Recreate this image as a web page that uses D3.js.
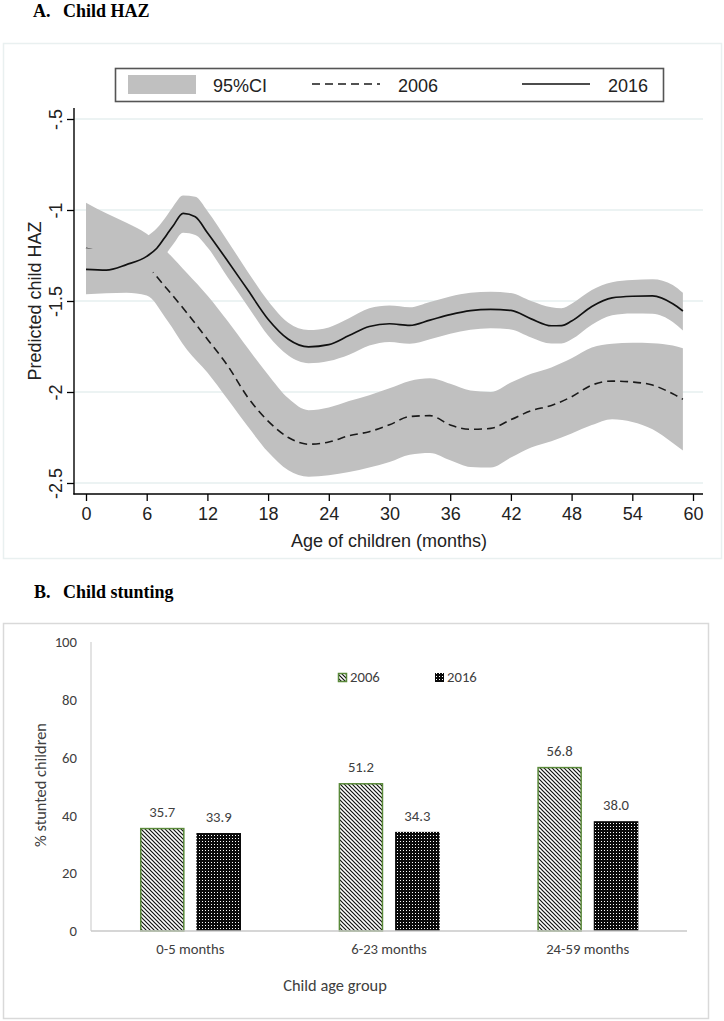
<!DOCTYPE html>
<html><head><meta charset="utf-8">
<script src="https://cdn.jsdelivr.net/npm/d3@7"></script>
<style>body{margin:0;background:#fff}</style>
</head><body>
<svg id="c" width="724" height="1021" xmlns="http://www.w3.org/2000/svg"></svg>
<script>
// ---------- Panel A data: predicted child HAZ by age ----------
const ages2006 = [0,2,4,6,8,10,12,14,16,18,20,22,24,26,28,30,32,34,36,38,40,42,44,46,48,50,52,54,56,58,59];
const haz2006  = [-1.21,-1.235,-1.26,-1.31,-1.433,-1.567,-1.71,-1.855,-2.03,-2.16,-2.25,-2.287,-2.275,-2.24,-2.218,-2.18,-2.135,-2.13,-2.181,-2.205,-2.2,-2.152,-2.103,-2.074,-2.026,-1.962,-1.94,-1.945,-1.962,-2.01,-2.04];
const hi2006   = [-0.96,-1.018,-1.07,-1.13,-1.229,-1.348,-1.47,-1.61,-1.76,-1.905,-2.035,-2.10,-2.085,-2.05,-2.018,-1.98,-1.94,-1.925,-1.955,-1.992,-2.0,-1.948,-1.9,-1.865,-1.815,-1.756,-1.735,-1.73,-1.732,-1.745,-1.76];
const lo2006   = [-1.463,-1.458,-1.455,-1.47,-1.604,-1.769,-1.893,-2.04,-2.19,-2.33,-2.43,-2.465,-2.458,-2.44,-2.415,-2.385,-2.345,-2.335,-2.375,-2.412,-2.415,-2.36,-2.305,-2.27,-2.228,-2.182,-2.15,-2.165,-2.205,-2.28,-2.322];

const ages2016 = [0,2,4,6,7,8,8.6,9.6,10.8,12,14,16,18,20,22,24,26,28,30,32,34,36,38,40,42,44,46,47,48,50,52,54,56,58,59];
const haz2016  = [-1.326,-1.33,-1.30,-1.255,-1.21,-1.134,-1.088,-1.018,-1.037,-1.125,-1.28,-1.44,-1.60,-1.71,-1.752,-1.74,-1.69,-1.64,-1.625,-1.634,-1.605,-1.575,-1.553,-1.546,-1.552,-1.598,-1.636,-1.635,-1.61,-1.53,-1.483,-1.474,-1.472,-1.515,-1.555];
const hi2016   = [-1.21,-1.215,-1.19,-1.145,-1.10,-1.03,-0.982,-0.921,-0.927,-1.005,-1.17,-1.34,-1.50,-1.62,-1.66,-1.645,-1.595,-1.54,-1.525,-1.534,-1.505,-1.475,-1.455,-1.449,-1.456,-1.50,-1.535,-1.54,-1.515,-1.44,-1.397,-1.385,-1.38,-1.412,-1.455];
const lo2016   = [-1.44,-1.445,-1.42,-1.37,-1.32,-1.235,-1.19,-1.125,-1.137,-1.205,-1.37,-1.53,-1.69,-1.80,-1.842,-1.83,-1.795,-1.745,-1.725,-1.735,-1.71,-1.68,-1.658,-1.65,-1.656,-1.70,-1.733,-1.733,-1.71,-1.63,-1.578,-1.568,-1.57,-1.615,-1.662];

const xTicksA = [0,6,12,18,24,30,36,42,48,54,60];
const yTicksA = [-2.5,-2,-1.5,-1,-0.5];
const yTickLabelsA = ["-2.5","-2","-1.5","-1","-.5"];
const legendA = ["95%CI","2006","2016"];

// ---------- Panel B data: % stunted children ----------
const groups = ["0-5 months","6-23 months","24-59 months"];
const years = ["2006","2016"];
const stunt2006 = [35.7,51.2,56.8];
const stunt2016 = [33.9,34.3,38.0];
const yTicksB = [0,20,40,60,80,100];

const svg = d3.select("#c");
svg.append("rect").attr("width",724).attr("height",1021).attr("fill","#fff");

const defs = svg.append("defs");
const hatch = defs.append("pattern").attr("id","hatch").attr("patternUnits","userSpaceOnUse")
  .attr("width",4).attr("height",4);
hatch.append("rect").attr("width",4).attr("height",4).attr("fill","#fff");
hatch.append("path").attr("d","M-1,-1 L5,5 M-1,3 L1,5 M3,-1 L5,1").attr("stroke","#111").attr("stroke-width",1.2);
const dots = defs.append("pattern").attr("id","dots").attr("patternUnits","userSpaceOnUse")
  .attr("width",3).attr("height",3);
dots.append("rect").attr("width",3).attr("height",3).attr("fill","#0a0a0a");
dots.append("rect").attr("x",1).attr("y",1).attr("width",1).attr("height",1).attr("fill","#fff");

// ================= PANEL A =================
const fA = "'Liberation Sans', Arial, sans-serif";
const fT = "'Liberation Serif', 'Times New Roman', serif";

svg.append("text").attr("x",33).attr("y",17).attr("font-family",fT).attr("font-weight","bold")
  .attr("font-size",18).attr("fill","#000").text("A.");
svg.append("text").attr("x",63).attr("y",17).attr("font-family",fT).attr("font-weight","bold")
  .attr("font-size",18).attr("fill","#000").text("Child HAZ");

svg.append("rect").attr("x",3.5).attr("y",43.5).attr("width",718).attr("height",515)
  .attr("fill","#fff").attr("stroke","#e9f0f0").attr("stroke-width",1.5);

const x = d3.scaleLinear().domain([0,60]).range([86,693]);
const y = d3.scaleLinear().domain([-2.5,-0.5]).range([483,119]);

const gA = svg.append("g");
gA.selectAll("line.grid").data(yTicksA).join("line").attr("class","grid")
  .attr("x1",75).attr("x2",703).attr("y1",d=>y(d)).attr("y2",d=>y(d))
  .attr("stroke","#e6efef").attr("stroke-width",1.4);

const d06 = ages2006.map((a,i)=>({a, v:haz2006[i], lo:lo2006[i], hi:hi2006[i]}));
const d16 = ages2016.map((a,i)=>({a, v:haz2016[i], lo:lo2016[i], hi:hi2016[i]}));
const area = d3.area().x(d=>x(d.a)).y0(d=>y(d.lo)).y1(d=>y(d.hi)).curve(d3.curveMonotoneX);
const line = d3.line().x(d=>x(d.a)).y(d=>y(d.v)).curve(d3.curveMonotoneX);

gA.append("path").attr("d",area(d06)).attr("fill","#c0c0c0");
gA.append("path").attr("d",line(d06)).attr("fill","none").attr("stroke","#1a1a1a")
  .attr("stroke-width",1.6).attr("stroke-dasharray","8,5");
gA.append("path").attr("d",area(d16)).attr("fill","#c0c0c0");
gA.append("path").attr("d",line(d16)).attr("fill","none").attr("stroke","#111")
  .attr("stroke-width",1.7);

const xAx = gA.append("g").attr("transform","translate(0,494)")
  .call(d3.axisBottom(x).tickValues(xTicksA).tickSize(7).tickPadding(6).tickFormat(d3.format("d")));
xAx.select(".domain").remove();
xAx.selectAll("line").attr("stroke","#000").attr("stroke-width",1.3);
xAx.selectAll("text").attr("font-family",fA).attr("font-size",18).attr("fill","#222");

const yAx = gA.append("g").attr("transform","translate(74,0)")
  .call(d3.axisLeft(y).tickValues(yTicksA).tickSize(7).tickFormat((d,i)=>yTickLabelsA[i]));
yAx.select(".domain").remove();
yAx.selectAll("line").attr("stroke","#000").attr("stroke-width",1.3);
yAx.selectAll("text").attr("x",null).attr("dy",null)
  .attr("transform","translate(-12,0) rotate(-90)").attr("text-anchor","middle")
  .attr("font-family",fA).attr("font-size",18).attr("fill","#222");

gA.append("line").attr("x1",74).attr("x2",74).attr("y1",108).attr("y2",494.6).attr("stroke","#000").attr("stroke-width",1.4);
gA.append("line").attr("x1",73.4).attr("x2",703).attr("y1",494).attr("y2",494).attr("stroke","#000").attr("stroke-width",1.4);

gA.append("text").attr("x",389).attr("y",547).attr("text-anchor","middle")
  .attr("font-family",fA).attr("font-size",18).attr("fill","#222").text("Age of children (months)");
gA.append("text").attr("transform","translate(41,301) rotate(-90)").attr("text-anchor","middle")
  .attr("font-family",fA).attr("font-size",18).attr("fill","#222").text("Predicted child HAZ");

const lg = gA.append("g");
lg.append("rect").attr("x",115.5).attr("y",68.5).attr("width",548).attr("height",33)
  .attr("fill","#fff").attr("stroke","#555").attr("stroke-width",1.6);
lg.append("rect").attr("x",128).attr("y",75).attr("width",68).attr("height",19).attr("fill","#c0c0c0");
lg.append("line").attr("x1",312).attr("x2",380).attr("y1",84).attr("y2",84)
  .attr("stroke","#1a1a1a").attr("stroke-width",1.6).attr("stroke-dasharray","8,5");
lg.append("line").attr("x1",522).attr("x2",590).attr("y1",84).attr("y2",84)
  .attr("stroke","#111").attr("stroke-width",1.7);
lg.selectAll("text").data(legendA).join("text")
  .attr("x",(d,i)=>[213,398,608][i]).attr("y",92)
  .attr("font-family",fA).attr("font-size",18).attr("fill","#222").text(d=>d);

// ================= PANEL B =================
const fB = "Carlito, Lato, 'Open Sans', sans-serif";
svg.append("text").attr("x",34).attr("y",598).attr("font-family",fT).attr("font-weight","bold")
  .attr("font-size",18).attr("fill","#000").text("B.");
svg.append("text").attr("x",63).attr("y",598).attr("font-family",fT).attr("font-weight","bold")
  .attr("font-size",18).attr("fill","#000").text("Child stunting");

svg.append("rect").attr("x",3.5).attr("y",623.5).attr("width",705).attr("height",395)
  .attr("fill","#fff").attr("stroke","#d9d9d9").attr("stroke-width",1.5);

const x0 = d3.scaleBand().domain(groups).range([91,687]).padding(0);
const x1 = d3.scaleBand().domain(years)
  .range([x0.bandwidth()*0.2466, x0.bandwidth()*0.755]).paddingInner(0.21);
const yB = d3.scaleLinear().domain([0,100]).range([931,642]);

const gB = svg.append("g");
const yAxB = gB.append("g").attr("transform","translate(91,0)")
  .call(d3.axisLeft(yB).tickValues(yTicksB).tickSize(0).tickPadding(14));
yAxB.select(".domain").remove();
yAxB.selectAll("text").attr("font-family",fB).attr("font-size",14.7).attr("fill","#404040");
gB.append("line").attr("x1",91).attr("x2",91).attr("y1",642).attr("y2",931).attr("stroke","#d0d0d0").attr("stroke-width",1.2);

const barData = [];
groups.forEach((g,i)=>{
  barData.push({g, yr:"2006", v:stunt2006[i]});
  barData.push({g, yr:"2016", v:stunt2016[i]});
});
gB.selectAll("rect.bar").data(barData).join("rect").attr("class","bar")
  .attr("x",d=>x0(d.g)+x1(d.yr)+(d.yr==="2006"?0.75:0))
  .attr("width",d=>x1.bandwidth()-(d.yr==="2006"?1.5:0))
  .attr("y",d=>yB(d.v)+(d.yr==="2006"?0.75:0))
  .attr("height",d=>yB(0)-yB(d.v)-(d.yr==="2006"?0.75:0))
  .attr("fill",d=>d.yr==="2006"?"url(#hatch)":"url(#dots)")
  .attr("stroke",d=>d.yr==="2006"?"#5a8a3a":"none").attr("stroke-width",1.5);

gB.selectAll("text.val").data(barData).join("text").attr("class","val")
  .attr("x",d=>x0(d.g)+x1(d.yr)+x1.bandwidth()/2).attr("y",d=>yB(d.v)-11)
  .attr("text-anchor","middle").attr("font-family",fB).attr("font-size",14.7).attr("fill","#404040")
  .text(d=>d3.format(".1f")(d.v));

gB.append("line").attr("x1",91).attr("x2",687).attr("y1",931).attr("y2",931).attr("stroke","#c8c8c8").attr("stroke-width",1.6);

const xAxB = gB.append("g").attr("transform","translate(0,931)")
  .call(d3.axisBottom(x0).tickSize(0).tickPadding(13));
xAxB.select(".domain").remove();
xAxB.selectAll("text").attr("font-family",fB).attr("font-size",14.7).attr("fill","#404040");

gB.append("text").attr("x",335).attr("y",991).attr("text-anchor","middle")
  .attr("font-family",fB).attr("font-size",16.4).attr("fill","#404040").text("Child age group");
gB.append("text").attr("transform","translate(46,785) rotate(-90)").attr("text-anchor","middle")
  .attr("font-family",fB).attr("font-size",16.4).attr("fill","#404040").text("% stunted children");

const lgB = gB.append("g");
lgB.append("rect").attr("x",338.5).attr("y",673.5).attr("width",8).attr("height",8)
  .attr("fill","url(#hatch)").attr("stroke","#5a8a3a").attr("stroke-width",1.5);
lgB.append("rect").attr("x",435).attr("y",673).attr("width",9).attr("height",9).attr("fill","url(#dots)");
lgB.selectAll("text").data(years).join("text")
  .attr("x",(d,i)=>[350,447][i]).attr("y",682)
  .attr("font-family",fB).attr("font-size",14.7).attr("fill","#404040").text(d=>d);
</script>
</body></html>
